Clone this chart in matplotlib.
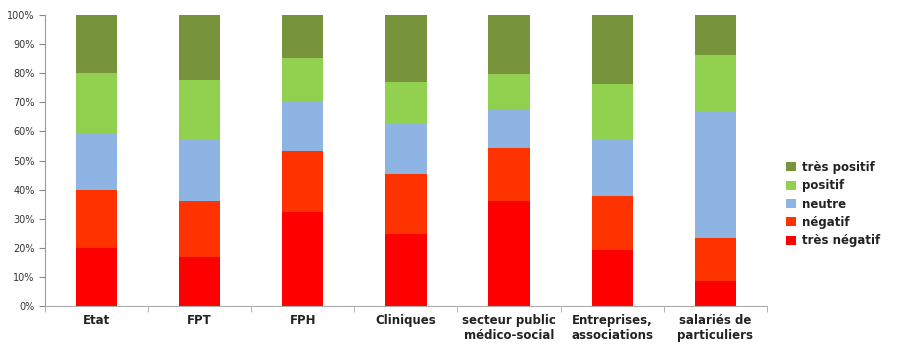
import numpy as np
import matplotlib
matplotlib.use('Agg')
import matplotlib.pyplot as plt
from matplotlib.ticker import PercentFormatter, FixedLocator

plt.rcParams['font.family'] = ['DejaVu Sans']

categories = ['Etat', 'FPT', 'FPH', 'Cliniques', 'secteur public\nmédico-social',
              'Entreprises,\nassociations', 'salariés de\nparticuliers']
series = ['très négatif', 'négatif', 'neutre', 'positif', 'très positif']
tres_negatif = [20.0, 16.7, 32.4, 24.8, 36.0, 19.2, 8.6]
negatif = [20.0, 19.3, 20.8, 20.7, 18.3, 18.6, 14.6]
neutre = [19.0, 21.0, 16.9, 17.5, 13.0, 19.2, 43.7]
positif = [21.0, 20.6, 15.3, 14.0, 12.6, 19.4, 19.5]
tres_positif = [20.0, 22.4, 14.6, 23.0, 20.1, 23.6, 13.6]
colors = ['#ff0000', '#ff3300', '#8eb4e3', '#92d050', '#77933c']

fig = plt.figure(figsize=(9, 3.52), dpi=100)
ax = fig.add_axes([0.05, 0.131, 0.802, 0.826])

x = np.arange(len(categories))
bottom = np.zeros(len(categories))
handles = []
for name, vals, c in zip(series, [tres_negatif, negatif, neutre, positif, tres_positif], colors):
    b = ax.bar(x, vals, 0.4, bottom=bottom, color=c, label=name, linewidth=0)
    bottom += np.array(vals)
    handles.append(b)

ax.set_xlim(-0.5, len(categories) - 0.5)
ax.set_ylim(0, 100)
ax.set_yticks(np.arange(0, 101, 10))
ax.yaxis.set_major_formatter(PercentFormatter(decimals=0))
ax.tick_params(axis='y', labelsize=7, length=4, color='#888888', colors='#333333')

ax.set_xticks(x)
ax.set_xticklabels(categories, fontsize=8.5, fontweight='bold', color='#222222')
ax.tick_params(axis='x', which='major', length=0, pad=6)
ax.xaxis.set_minor_locator(FixedLocator(np.arange(-0.5, len(categories), 1.0)))
ax.tick_params(axis='x', which='minor', length=4, color='#aaaaaa')

for s in ['top', 'right']:
    ax.spines[s].set_visible(False)
ax.spines['left'].set_color('#999999')
ax.spines['bottom'].set_color('#aaaaaa')

leg = fig.legend(handles[::-1], series[::-1], loc='center left', bbox_to_anchor=(0.862, 0.42),
                 frameon=False, fontsize=8.5, handlelength=0.8, handleheight=0.8,
                 handletextpad=0.5, labelspacing=0.45)
for t in leg.get_texts():
    t.set_fontweight('bold')
    t.set_color('#222222')

fig.savefig('out.png', dpi=100)
